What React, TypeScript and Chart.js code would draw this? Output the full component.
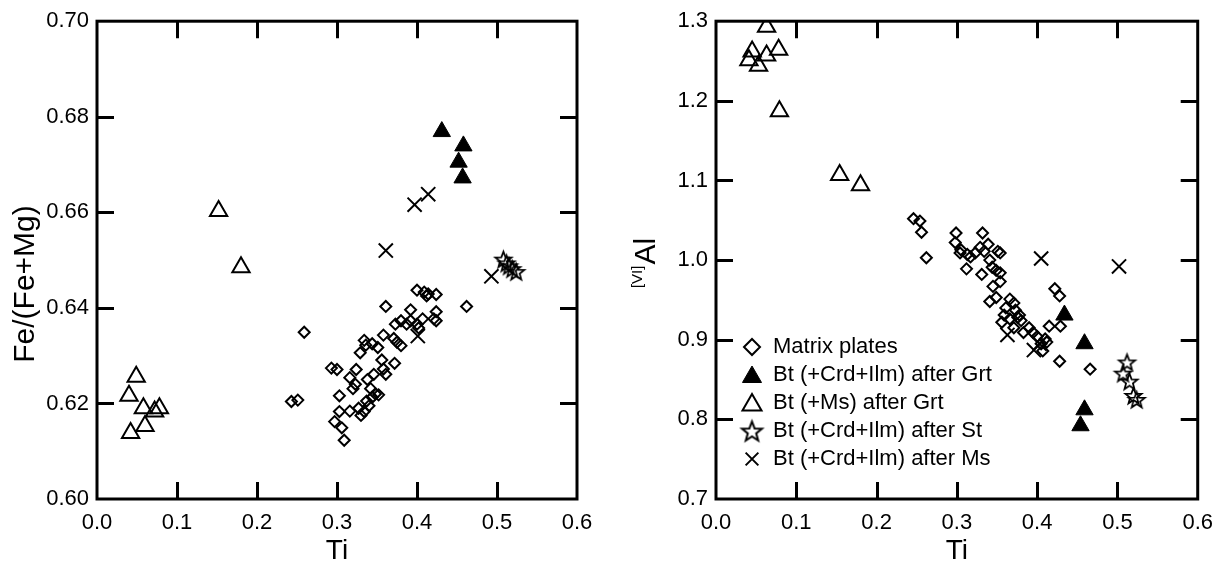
import React, { useEffect, useRef } from 'react';
import { Chart, registerables } from 'chart.js';
import { drawPoint } from 'chart.js/helpers';

Chart.register(...registerables);

const FONT = '"Liberation Sans", Arial, Helvetica, sans-serif';

// ---------- shared ticks ----------
const xTicks = [0, 0.1, 0.2, 0.3, 0.4, 0.5, 0.6];
const leftYTicks = [0.6, 0.62, 0.64, 0.66, 0.68, 0.7];
const rightYTicks = [0.7, 0.8, 0.9, 1.0, 1.1, 1.2, 1.3];

const legendLabels = [
  'Matrix plates',
  'Bt (+Crd+Ilm) after Grt',
  'Bt (+Ms) after Grt',
  'Bt (+Crd+Ilm) after St',
  'Bt (+Crd+Ilm) after Ms',
];

// ---------- left panel: Fe/(Fe+Mg) vs Ti ----------
const matrixTiL = [0.259, 0.243, 0.251, 0.293, 0.300, 0.303, 0.297, 0.303, 0.306, 0.309, 0.316, 0.316, 0.324, 0.320, 0.329, 0.334, 0.327, 0.330, 0.334, 0.337, 0.338, 0.342, 0.344, 0.348, 0.344, 0.351, 0.346, 0.356, 0.358, 0.358, 0.361, 0.361, 0.372, 0.371, 0.375, 0.380, 0.373, 0.380, 0.387, 0.392, 0.392, 0.400, 0.402, 0.407, 0.400, 0.409, 0.412, 0.414, 0.424, 0.424, 0.421, 0.424, 0.462, 0.340, 0.352, 0.336, 0.323];
const matrixFeL = [0.6349, 0.6204, 0.6207, 0.6274, 0.6271, 0.6216, 0.6162, 0.6183, 0.6149, 0.6123, 0.6184, 0.6254, 0.6271, 0.6231, 0.6306, 0.6332, 0.6190, 0.6175, 0.6183, 0.6205, 0.6250, 0.6231, 0.6213, 0.6220, 0.6325, 0.6317, 0.6261, 0.6291, 0.6343, 0.6272, 0.6261, 0.6403, 0.6284, 0.6336, 0.6328, 0.6321, 0.6366, 0.6373, 0.6366, 0.6396, 0.6373, 0.6366, 0.6358, 0.6377, 0.6437, 0.6433, 0.6425, 0.6429, 0.6428, 0.6392, 0.6377, 0.6373, 0.6403, 0.6195, 0.6218, 0.6322, 0.6240];
const grtFilledTiL = [0.431, 0.458, 0.452, 0.457];
const grtFilledFeL = [0.6769, 0.6739, 0.6705, 0.6672];
const grtOpenTiL = [0.049, 0.040, 0.058, 0.072, 0.078, 0.060, 0.042, 0.152, 0.180];
const grtOpenFeL = [0.6256, 0.6216, 0.6190, 0.6183, 0.6190, 0.6153, 0.6138, 0.6603, 0.6485];
const stTiL = [0.508, 0.512, 0.515, 0.519, 0.524];
const stFeL = [0.6502, 0.6494, 0.6488, 0.6482, 0.6476];
const msTiL = [0.397, 0.414, 0.361, 0.493, 0.401];
const msFeL = [0.6616, 0.6638, 0.6520, 0.6466, 0.6341];

// ---------- right panel: [VI]Al vs Ti ----------
const matrixTiR = [0.246, 0.254, 0.256, 0.262, 0.299, 0.298, 0.305, 0.304, 0.312, 0.313, 0.317, 0.323, 0.332, 0.329, 0.334, 0.331, 0.339, 0.341, 0.344, 0.351, 0.349, 0.354, 0.354, 0.345, 0.341, 0.349, 0.356, 0.359, 0.361, 0.366, 0.371, 0.373, 0.376, 0.380, 0.378, 0.383, 0.366, 0.371, 0.390, 0.395, 0.400, 0.405, 0.410, 0.412, 0.415, 0.407, 0.429, 0.422, 0.428, 0.428, 0.466, 0.354];
const matrixAlR = [1.052, 1.049, 1.035, 1.003, 1.034, 1.022, 1.013, 1.009, 0.989, 1.007, 1.004, 1.009, 1.034, 1.016, 1.011, 0.982, 1.020, 1.000, 0.991, 1.011, 0.987, 0.984, 0.973, 0.967, 0.948, 0.953, 0.922, 0.931, 0.940, 0.951, 0.946, 0.937, 0.928, 0.924, 0.931, 0.909, 0.926, 0.915, 0.915, 0.909, 0.904, 0.895, 0.901, 0.897, 0.917, 0.886, 0.917, 0.964, 0.955, 0.873, 0.863, 1.009];
const grtFilledTiR = [0.434, 0.459, 0.459, 0.454];
const grtFilledAlR = [0.931, 0.895, 0.812, 0.792];
const grtOpenTiR = [0.063, 0.045, 0.041, 0.053, 0.063, 0.078, 0.079, 0.154, 0.180];
const grtOpenAlR = [1.293, 1.262, 1.251, 1.244, 1.257, 1.264, 1.187, 1.107, 1.094];
const stTiR = [0.512, 0.507, 0.515, 0.520, 0.524];
const stAlR = [0.872, 0.858, 0.848, 0.830, 0.825];
const msTiR = [0.405, 0.502, 0.363, 0.396, 0.403];
const msAlR = [1.002, 0.992, 0.906, 0.887, 0.895];

const pts = (xs: number[], ys: number[]) => xs.map((x, i) => ({ x, y: ys[i] }));

function makeStar(outer: number, inner: number, lw: number) {
  const size = Math.ceil(outer * 2 + lw * 2 + 2);
  const c = document.createElement('canvas');
  c.width = size;
  c.height = size;
  const g = c.getContext('2d')!;
  g.beginPath();
  for (let i = 0; i < 10; i++) {
    const r = i % 2 === 0 ? outer : inner;
    const a = -Math.PI / 2 + (i * Math.PI) / 5;
    const px = size / 2 + r * Math.cos(a);
    const py = size / 2 + 1 + r * Math.sin(a);
    if (i === 0) g.moveTo(px, py);
    else g.lineTo(px, py);
  }
  g.closePath();
  g.lineWidth = lw;
  g.strokeStyle = '#000';
  g.lineJoin = 'miter';
  g.stroke();
  return c;
}

function buildDatasets(star: HTMLCanvasElement, d: any) {
  return [
    {
      label: legendLabels[0], data: pts(d.mx, d.my), pointStyle: 'rectRot', pointRadius: 5.5,
      pointBorderWidth: 2, pointBorderColor: '#000', pointBackgroundColor: 'rgba(0,0,0,0)', showLine: false,
    },
    {
      label: legendLabels[1], data: pts(d.fx, d.fy), pointStyle: 'triangle', pointRadius: 10,
      pointBorderWidth: 1, pointBorderColor: '#000', pointBackgroundColor: '#000', showLine: false,
    },
    {
      label: legendLabels[2], data: pts(d.ox, d.oy), pointStyle: 'triangle', pointRadius: 10,
      pointBorderWidth: 2, pointBorderColor: '#000', pointBackgroundColor: 'rgba(0,0,0,0)', showLine: false,
    },
    {
      label: legendLabels[3], data: pts(d.sx, d.sy), pointStyle: star, pointRadius: 9,
      pointBorderWidth: 2, pointBorderColor: '#000', pointBackgroundColor: 'rgba(0,0,0,0)', showLine: false,
    },
    {
      label: legendLabels[4], data: pts(d.cx, d.cy), pointStyle: 'crossRot', pointRadius: 10,
      pointBorderWidth: 2, pointBorderColor: '#000', pointBackgroundColor: 'rgba(0,0,0,0)', showLine: false,
    },
  ];
}

const framePlugin = {
  id: 'frame',
  afterDraw(chart: any, _args: any, opts: any) {
    const { ctx, chartArea: a, scales } = chart;
    ctx.save();
    ctx.strokeStyle = '#000';
    ctx.lineWidth = 3;
    ctx.lineCap = 'butt';
    ctx.strokeRect(a.left, a.top, a.right - a.left, a.bottom - a.top);
    const tl = 17;
    ctx.beginPath();
    scales.x.ticks.forEach((t: any, i: number) => {
      if (i === 0 || i === scales.x.ticks.length - 1) return;
      const x = Math.round(scales.x.getPixelForValue(t.value)) + 0.5;
      ctx.moveTo(x, a.bottom); ctx.lineTo(x, a.bottom - tl);
      ctx.moveTo(x, a.top); ctx.lineTo(x, a.top + tl);
    });
    scales.y.ticks.forEach((t: any, i: number) => {
      if (i === 0 || i === scales.y.ticks.length - 1) return;
      const y = Math.round(scales.y.getPixelForValue(t.value)) + 0.5;
      ctx.moveTo(a.left, y); ctx.lineTo(a.left + tl, y);
      ctx.moveTo(a.right, y); ctx.lineTo(a.right - tl, y);
    });
    ctx.stroke();

    // axis titles
    ctx.fillStyle = '#000';
    ctx.textAlign = 'center';
    ctx.textBaseline = 'middle';
    ctx.font = `28px ${FONT}`;
    ctx.fillText('Ti', (a.left + a.right) / 2, opts.xTitleY);

    ctx.translate(opts.yTitleX, opts.yTitleY);
    ctx.rotate(-Math.PI / 2);
    if (opts.yTitle === 'VIAl') {
      ctx.textAlign = 'left';
      ctx.textBaseline = 'alphabetic';
      ctx.font = `15px ${FONT}`;
      const sup = '[VI]';
      const w1 = ctx.measureText(sup).width;
      ctx.font = `30px ${FONT}`;
      const w2 = ctx.measureText('Al').width;
      const start = -(w1 + w2 + 1) / 2;
      ctx.font = `15px ${FONT}`;
      ctx.fillText(sup, start, -2);
      ctx.font = `30px ${FONT}`;
      ctx.fillText('Al', start + w1 + 1, 11);
    } else {
      ctx.font = `30px ${FONT}`;
      ctx.fillText(opts.yTitle, 0, 0);
    }
    ctx.restore();
  },
};

const legendPlugin = {
  id: 'inLegend',
  afterDraw(chart: any, _args: any, opts: any) {
    if (!opts || !opts.show) return;
    const { ctx, chartArea: a } = chart;
    ctx.save();
    const mx = a.left + opts.markerDx;
    const tx = a.left + opts.textDx;
    chart.data.datasets.forEach((ds: any, i: number) => {
      const y = opts.firstY + i * opts.rowH;
      ctx.save();
      ctx.strokeStyle = '#000';
      ctx.fillStyle = ds.pointBackgroundColor;
      ctx.lineWidth = ds.pointBorderWidth;
      const radius = opts.radii[i];
      if (typeof ds.pointStyle !== 'string') {
        const img = opts.bigStar;
        ctx.drawImage(img, mx - img.width / 2, y - img.height / 2);
      } else {
        drawPoint(ctx, { pointStyle: ds.pointStyle, rotation: 0, radius, borderWidth: ds.pointBorderWidth }, mx, y + (ds.pointStyle === 'triangle' ? 2 : 0));
      }
      ctx.restore();
      ctx.fillStyle = '#000';
      ctx.font = `22px ${FONT}`;
      ctx.textAlign = 'left';
      ctx.textBaseline = 'middle';
      ctx.fillText(ds.label, tx, y);
    });
    ctx.restore();
  },
};

function makeOptions(cfg: any) {
  const tickFont = { family: FONT, size: 22 };
  return {
    responsive: false,
    animation: false,
    events: [],
    layout: { padding: { top: cfg.top, right: cfg.right, left: 0, bottom: 0 } },
    plugins: {
      legend: { display: false },
      tooltip: { enabled: false },
      frame: { xTitleY: cfg.xTitleY, yTitleX: cfg.yTitleX, yTitleY: cfg.yTitleY, yTitle: cfg.yTitle },
      inLegend: cfg.legend || { show: false },
    },
    scales: {
      x: {
        type: 'linear', min: 0, max: 0.6,
        afterBuildTicks: (s: any) => { s.ticks = xTicks.map((v) => ({ value: v })); },
        afterFit: (s: any) => { s.height = cfg.xH; },
        grid: { display: false, drawTicks: false },
        border: { display: false },
        ticks: { font: tickFont, color: '#000', padding: 11, maxRotation: 0, autoSkip: false, callback: (v: any) => Number(v).toFixed(1) },
      },
      y: {
        type: 'linear', min: cfg.ymin, max: cfg.ymax,
        afterBuildTicks: (s: any) => { s.ticks = cfg.yTicks.map((v: number) => ({ value: v })); },
        afterFit: (s: any) => { s.width = cfg.yW; },
        grid: { display: false, drawTicks: false },
        border: { display: false },
        ticks: { font: tickFont, color: '#000', padding: 8, autoSkip: false, callback: (v: any) => Number(v).toFixed(cfg.yDec) },
      },
    },
  };
}

function Panel({ left, datasetsFn, cfg }: any) {
  const ref = useRef<HTMLCanvasElement | null>(null);
  useEffect(() => {
    const star = makeStar(8.5, 3.6, 1.8);
    const bigStar = makeStar(10.5, 4.4, 2);
    const options: any = makeOptions(cfg);
    if (options.plugins.inLegend.show) options.plugins.inLegend.bigStar = bigStar;
    const chart = new Chart(ref.current!, {
      type: 'scatter',
      data: { datasets: datasetsFn(star) as any },
      options,
      plugins: [framePlugin, legendPlugin],
    });
    return () => chart.destroy();
  }, []);
  return (
    <canvas
      ref={ref}
      width={612}
      height={566}
      style={{ position: 'absolute', left, top: 0, width: 612, height: 566 }}
    />
  );
}

export default function App() {
  useEffect(() => {
    document.body.style.margin = '0';
    document.body.style.background = '#fff';
  }, []);
  const leftData = (star: HTMLCanvasElement) =>
    buildDatasets(star, {
      mx: matrixTiL, my: matrixFeL, fx: grtFilledTiL, fy: grtFilledFeL, ox: grtOpenTiL, oy: grtOpenFeL,
      sx: stTiL, sy: stFeL, cx: msTiL, cy: msFeL,
    });
  const rightData = (star: HTMLCanvasElement) =>
    buildDatasets(star, {
      mx: matrixTiR, my: matrixAlR, fx: grtFilledTiR, fy: grtFilledAlR, ox: grtOpenTiR, oy: grtOpenAlR,
      sx: stTiR, sy: stAlR, cx: msTiR, cy: msAlR,
    });
  const leftCfg = {
    top: 18, right: 35, yW: 97, xH: 67, ymin: 0.6, ymax: 0.7, yTicks: leftYTicks, yDec: 2,
    xTitleY: 551, yTitleX: 26, yTitleY: 284, yTitle: 'Fe/(Fe+Mg)',
  };
  const rightCfg = {
    top: 18, right: 22, yW: 104, xH: 67, ymin: 0.7, ymax: 1.3, yTicks: rightYTicks, yDec: 1,
    xTitleY: 551, yTitleX: 32, yTitleY: 263, yTitle: 'VIAl',
    legend: { show: true, markerDx: 36, textDx: 57, firstY: 347, rowH: 28, radii: [8, 11, 11, 10, 9] },
  };
  return (
    <div style={{ position: 'relative', width: 1224, height: 566, background: '#fff' }}>
      <Panel left={0} datasetsFn={leftData} cfg={leftCfg} />
      <Panel left={612} datasetsFn={rightData} cfg={rightCfg} />
    </div>
  );
}
